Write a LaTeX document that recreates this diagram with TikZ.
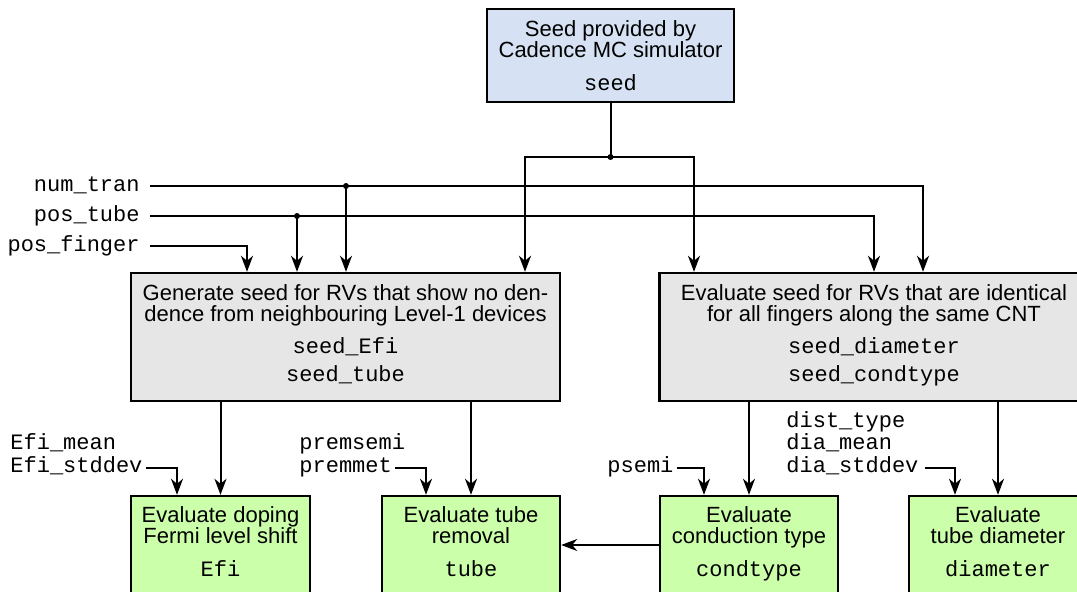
\documentclass[tikz,border=0pt]{standalone}
\usepackage{fontspec}
\setmainfont{Liberation Sans}
\setmonofont{Liberation Mono}
\usetikzlibrary{arrows.meta}
\definecolor{seedblue}{RGB}{214,226,243}
\definecolor{boxgray}{RGB}{230,230,230}
\definecolor{boxgreen}{RGB}{204,255,170}
\begin{document}
\begin{tikzpicture}[x=0.5pt,y=-0.5pt,
  box/.style={draw=black, line width=1.2pt, inner sep=0pt},
  conn/.style={line width=1pt},
  arr/.style={conn, -{Stealth[length=8pt,width=6pt,inset=2.5pt]}},
  txt/.style={anchor=base, inner sep=0pt, font=\fontsize{11}{13}\selectfont},
  mono/.style={anchor=base, inner sep=0pt, font=\fontsize{11}{13}\selectfont\ttfamily},
  lab/.style={inner xsep=1.5pt, inner ysep=0pt, font=\fontsize{11}{13}\selectfont\ttfamily},
  jdot/.style={circle, fill=black, inner sep=0pt, minimum size=3pt}
]
\path[use as bounding box] (0,0) rectangle (1077,592);
\clip (0,0) rectangle (1077,592);

% boxes
\node[box, fill=seedblue, minimum width=123.5pt, minimum height=46.5pt] (seed) at (610.5,55.5) {};
\node[box, fill=boxgray, minimum width=214.5pt, minimum height=64pt] (gen) at (345.5,337) {};
\node[box, fill=boxgray, minimum width=214.5pt, minimum height=64pt] (evs) at (874,337) {};
\node[box, fill=boxgreen, minimum width=89.5pt, minimum height=49pt] (efi) at (220.5,545) {};
\node[box, fill=boxgreen, minimum width=89pt, minimum height=49pt] (tube) at (471,545) {};
\node[box, fill=boxgreen, minimum width=89pt, minimum height=49pt] (cond) at (749,545) {};
\node[box, fill=boxgreen, minimum width=89pt, minimum height=49pt] (diam) at (998,545) {};

% box texts
\node[txt] (seedA) at (610.5,37) {Seed provided by};
\node[txt] (seedB) at (610.5,58) {Cadence MC simulator};
\node[mono] (seedC) at (610.5,91) {seed};

\node[txt] (genA) at (345.5,301) {Generate seed for RVs that show no den-};
\node[txt] (genB) at (345.5,322) {dence from neighbouring Level-1 devices};
\node[mono] (genC) at (345.5,354) {seed\_Efi};
\node[mono] (genD) at (345.5,382) {seed\_tube};

\node[txt] (evsA) at (874,301) {Evaluate seed for RVs that are identical};
\node[txt] (evsB) at (874,322) {for all fingers along the same CNT};
\node[mono] (evsC) at (874,354) {seed\_diameter};
\node[mono] (evsD) at (874,382) {seed\_condtype};

\node[txt] (efiA) at (220.5,523) {Evaluate doping};
\node[txt] (efiB) at (220.5,544) {Fermi level shift};
\node[mono] (efiC) at (220.5,577) {Efi};

\node[txt] (tubeA) at (471,523) {Evaluate tube};
\node[txt] (tubeB) at (471,544) {removal};
\node[mono] (tubeC) at (471,577) {tube};

\node[txt] (condA) at (749,523) {Evaluate};
\node[txt] (condB) at (749,544) {conduction type};
\node[mono] (condC) at (749,577) {condtype};

\node[txt] (diamA) at (998,523) {Evaluate};
\node[txt] (diamB) at (998,544) {tube diameter};
\node[mono] (diamC) at (998,577) {diameter};

% input labels
\node[lab, anchor=base east] (numtran) at (143,192) {num\_tran};
\node[lab, anchor=base east] (postube) at (143,222) {pos\_tube};
\node[lab, anchor=base east] (posfinger) at (143,252) {pos\_finger};

\node[lab, anchor=base west] (efimean) at (7,450) {Efi\_mean};
\node[lab, anchor=base west] (efistd) at (7,473) {Efi\_stddev};
\node[lab, anchor=base west] (premsemi) at (296,450) {premsemi};
\node[lab, anchor=base west] (premmet) at (296,473) {premmet};
\node[lab, anchor=base west] (psemi) at (604,473) {psemi};
\node[lab, anchor=base west] (disttype) at (783,428) {dist\_type};
\node[lab, anchor=base west] (diamean) at (783,450) {dia\_mean};
\node[lab, anchor=base west] (diastd) at (783,473) {dia\_stddev};

% junction dots
\node[jdot] (j1) at (610.5,157) {};
\node[jdot] (j2) at (346,186) {};
\node[jdot] (j3) at (297,216) {};

% connectors
\draw[conn] (seed.south) -- (j1.center);
\draw[arr] (j1.center) -| (gen.north -| 525,0);
\draw[arr] (j1.center) -| (evs.north -| 694,0);

\draw[arr] ([xshift=3.5pt,yshift=3pt]numtran.base east) -| (evs.north -| 923,0);
\draw[arr] (j2.center) -- (gen.north -| j2.center);
\draw[arr] ([xshift=3.5pt,yshift=3pt]postube.base east) -| (evs.north -| 874,0);
\draw[arr] (j3.center) -- (gen.north -| j3.center);
\draw[arr] ([xshift=3.5pt,yshift=3pt]posfinger.base east) -| (gen.north -| 247,0);

\draw[arr] (gen.south -| efi.north) -- (efi.north);
\draw[arr] (gen.south -| tube.north) -- (tube.north);
\draw[arr] (evs.south -| cond.north) -- (cond.north);
\draw[arr] (evs.south -| diam.north) -- (diam.north);

\draw[arr] ([yshift=2.5pt]efistd.base east) -| (efi.north -| 177,0);
\draw[arr] ([yshift=2.5pt]premmet.base east) -| (tube.north -| 426,0);
\draw[arr] ([yshift=2.5pt]psemi.base east) -| (cond.north -| 704,0);
\draw[arr] ([xshift=1.5pt,yshift=2.5pt]diastd.base east) -| (diam.north -| 955,0);

\draw[arr] (cond.west) -- (tube.east);
\end{tikzpicture}
\end{document}
